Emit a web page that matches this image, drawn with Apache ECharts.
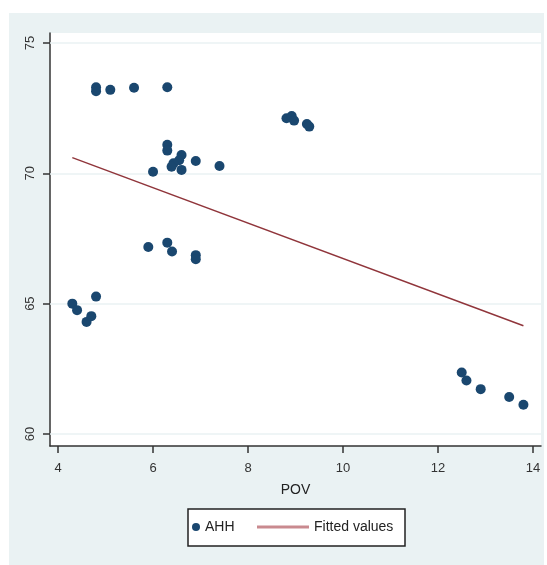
<!DOCTYPE html>
<html>
<head>
<meta charset="utf-8">
<script src="https://cdn.jsdelivr.net/npm/echarts@6/dist/echarts.min.js"></script>
<style>
html, body { margin: 0; padding: 0; background: #fff; }
#chart { width: 547px; height: 565px; }
</style>
</head>
<body>
<div id="chart"></div>
<script>
// AHH against POV
var pov = [4.8, 4.8, 5.1, 5.6, 6.3,
           6.3, 6.3, 6.6, 6.55, 6.9, 7.4, 6.0, 6.43, 6.39, 6.6,
           5.9, 6.3, 6.4, 6.9, 6.9,
           8.81, 8.92, 8.97, 9.24, 9.29,
           4.3, 4.4, 4.6, 4.7, 4.8,
           12.5, 12.6, 12.9, 13.5, 13.8];
var ahh = [73.15, 73.3, 73.2, 73.28, 73.3,
           71.09, 70.87, 70.7, 70.5, 70.47, 70.28, 70.06, 70.38, 70.25, 70.13,
           67.17, 67.34, 67.0, 66.86, 66.7,
           72.11, 72.2, 72.02, 71.89, 71.79,
           65.0, 64.75, 64.3, 64.52, 65.27,
           62.36, 62.05, 61.72, 61.42, 61.12];

// fitted line end points
var fitPov = [4.3, 13.8];
var fitAhh = [70.6, 64.15];

var xTicks = [4, 6, 8, 10, 12, 14];
var yTicks = [60, 65, 70, 75];

var scatterData = [];
for (var i = 0; i < pov.length; i++) {
    scatterData.push([pov[i], ahh[i]]);
}
var fitData = [];
for (var j = 0; j < fitPov.length; j++) {
    fitData.push([fitPov[j], fitAhh[j]]);
}
var gridLines = [];
for (var k = 0; k < yTicks.length; k++) {
    gridLines.push({ yAxis: yTicks[k] });
}

var font = 'Liberation Sans, Arial, sans-serif';
var axisColor = '#333';

var myChart = echarts.init(document.getElementById('chart'));
var option = {
    animation: false,
    backgroundColor: '#fff',
    textStyle: { fontFamily: font },
    graphic: [
        {
            type: 'rect', z: -100,
            shape: { x: 9, y: 13, width: 535, height: 552 },
            style: { fill: '#eaf2f3' }
        },
        {
            type: 'rect', z: 1,
            shape: { x: 188, y: 509, width: 217, height: 37 },
            style: { fill: '#fff', stroke: '#222', lineWidth: 1.5 }
        }
    ],
    grid: {
        left: 50, right: 6, top: 33, bottom: 119,
        show: true, backgroundColor: '#fff', borderWidth: 0
    },
    legend: [
        {
            left: 192, top: 520, padding: 0, z: 5,
            itemWidth: 8, itemHeight: 8,
            data: [{ name: 'AHH', icon: 'circle' }],
            textStyle: { fontSize: 14, color: '#222', fontFamily: font }
        },
        {
            left: 257, top: 520, padding: 0, z: 5,
            itemWidth: 52, itemHeight: 3,
            data: [{ name: 'Fitted values', icon: 'rect', itemStyle: { color: '#c98a8f' } }],
            textStyle: { fontSize: 14, color: '#222', fontFamily: font }
        }
    ],
    xAxis: {
        type: 'value',
        min: 3.83, max: 14.17,
        name: 'POV', nameLocation: 'middle', nameGap: 37,
        nameTextStyle: { fontSize: 14, color: '#222', fontFamily: font },
        axisLine: { show: true, onZero: false, lineStyle: { color: axisColor, width: 1.5 } },
        axisTick: { show: true, customValues: xTicks, length: 7, lineStyle: { color: axisColor, width: 1.5 } },
        axisLabel: { customValues: xTicks, margin: 16, fontSize: 13, color: '#333', fontFamily: font },
        splitLine: { show: false }
    },
    yAxis: {
        type: 'value',
        min: 59.54, max: 75.38,
        axisLine: { show: true, onZero: false, lineStyle: { color: axisColor, width: 1.5 } },
        axisTick: { show: true, customValues: yTicks, length: 7, lineStyle: { color: axisColor, width: 1.5 } },
        axisLabel: { customValues: yTicks, rotate: 90, margin: 13, fontSize: 13, color: '#333', fontFamily: font },
        splitLine: { show: false }
    },
    series: [
        {
            // empty series that only carries the horizontal grid lines
            type: 'line',
            data: [],
            z: 1,
            markLine: {
                z: 1,
                silent: true,
                symbol: ['none', 'none'],
                label: { show: false },
                lineStyle: { color: '#eaf2f3', width: 1.5, type: 'solid' },
                data: gridLines
            }
        },
        {
            name: 'AHH',
            type: 'scatter',
            data: scatterData,
            symbolSize: 10,
            itemStyle: { color: '#1a476f', opacity: 1 },
            z: 3
        },
        {
            name: 'Fitted values',
            type: 'line',
            data: fitData,
            symbol: 'none',
            lineStyle: { color: '#90353b', width: 1.5 },
            itemStyle: { color: '#90353b' },
            z: 4
        }
    ]
};
myChart.setOption(option);
</script>
</body>
</html>
